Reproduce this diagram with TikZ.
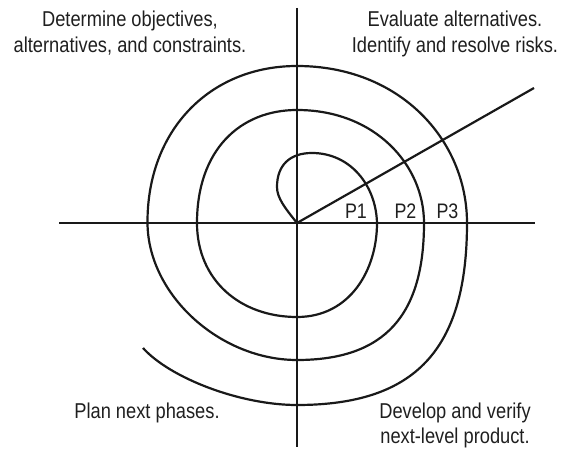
\documentclass[tikz,border=0pt]{standalone}
\usepackage{fontspec}
\setmainfont{Liberation Sans}[FakeStretch=0.85]
\begin{document}
\begin{tikzpicture}[x=1pt,y=-1pt,
  axis/.style={line width=2.2pt,draw=black!90},
  spiral/.style={line width=2.2pt,draw=black!90},
  quad/.style={font=\fontsize{21.5}{25.5}\selectfont,align=center,inner sep=0pt,anchor=north,text=black!88},
  plabel/.style={font=\fontsize{21}{24}\selectfont,inner sep=0pt,text=black!88}]
\useasboundingbox (0,0) rectangle (563,449);
% axes
\coordinate (O) at (297,223);
\coordinate (vtop) at (297,8);
\coordinate (vbot) at (297,447);
\coordinate (hleft) at (59,223);
\coordinate (hright) at (535,223);
\coordinate (dend) at (534,88);
\draw[axis] (vtop) -- (vbot);
\draw[axis] (hleft) -- (hright);
\draw[axis] (O) -- (dend);
% spiral
\coordinate (send) at (143,348);
\draw[spiral] (O) .. controls (285,208) and (277,198) .. (277,187)
  .. controls (277,165) and (290,153) .. (312,153)
  .. controls (350,153) and (376,185) .. (377,223)
  .. controls (377,270) and (350,317) .. (297,317)
  .. controls (240,317) and (197,280) .. (197,223)
  .. controls (197,150) and (240,110) .. (297,110)
  .. controls (375,110) and (424,165) .. (424,223)
  .. controls (424,315) and (385,360) .. (297,360)
  .. controls (220,360) and (148,295) .. (147.5,223)
  .. controls (147,130) and (210,66) .. (297,66)
  .. controls (400,66) and (467,140) .. (467,223)
  .. controls (467,350) and (415,405) .. (297,405)
  .. controls (240,405) and (170,378) .. (send);
% labels
\node[plabel] (p1) at (356,211) {P1};
\node[plabel] (p2) at (405.5,211) {P2};
\node[plabel] (p3) at (447.5,211) {P3};
% quadrant texts
\node[quad] (q1) at (130,11) {Determine objectives,\\alternatives, and constraints.};
\node[quad] (q2) at (455,11) {Evaluate alternatives.\\Identify and resolve risks.};
\node[quad] (q3) at (147,402.5) {Plan next phases.};
\node[quad] (q4) at (455,402.5) {Develop and verify\\next-level product.};
\end{tikzpicture}
\end{document}
